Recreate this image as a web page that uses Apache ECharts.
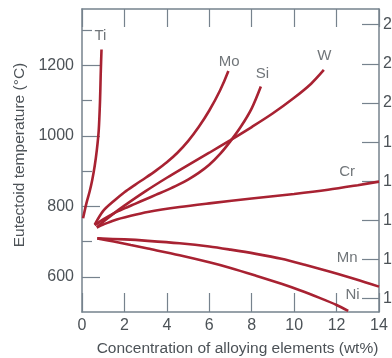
<!DOCTYPE html>
<html><head><meta charset="utf-8">
<script src="https://cdn.jsdelivr.net/npm/echarts@6/dist/echarts.min.js"></script>
<style>html,body{margin:0;padding:0;background:#fff}#c{width:392px;height:358px}</style>
</head><body><div id="c"></div>
<script>
// ---- data (wt% , eutectoid temperature °C) ----
const Ti = [[0.05,766],[0.21,809],[0.36,842],[0.48,874],[0.6,915],[0.7,960],[0.79,1017],[0.85,1100],[0.88,1170],[0.9,1210],[0.92,1245]];
const Mo = [[0.6,748],[1.0,787],[1.5,815],[2.0,840],[2.5,861],[3.0,881],[3.5,902],[4.0,925],[4.5,952],[5.0,985],[5.5,1025],[6.0,1072],[6.5,1128],[6.9,1184]];
const Si = [[0.6,746],[1.0,763],[1.5,780],[2.0,794],[2.5,807],[3.0,820],[3.5,833],[4.0,846],[4.5,860],[5.0,876],[5.5,895],[6.0,918],[6.5,948],[7.0,985],[7.5,1027],[8.0,1078],[8.43,1140]];
const W  = [[0.7,740],[1.0,756],[1.5,780],[2.0,802],[3.0,843],[4.0,881],[5.0,917],[6.0,952],[7.0,988],[8.0,1025],[9.0,1064],[10.0,1108],[10.8,1148],[11.4,1187]];
const Cr = [[0.7,740],[1.0,748],[1.5,760],[2.3,773],[3.1,784],[4.6,798],[6.1,809],[8.0,822],[10.0,835],[11.6,847],[13.0,860],[14.0,870]];
const Mn = [[0.72,709],[2.0,706],[3.1,702],[4.6,695],[6.0,686],[7.0,677],[8.2,665],[9.4,651],[10.5,634],[11.7,614],[12.9,593],[14.0,572]];
const Ni = [[0.72,709],[1.5,700],[2.3,690],[3.1,680],[4.6,661],[6.0,641],[7.0,625],[8.2,603],[9.4,580],[10.3,561],[11.2,540],[12.0,520],[12.55,503]];
const curveNames = ['Ti','Mo','Si','W','Cr','Mn','Ni'];
const curves = [Ti, Mo, Si, W, Cr, Mn, Ni];
// curve labels: [wt%, °C, text]
const curveLabels = [[0.87,1283,'Ti'],[6.94,1211,'Mo'],[8.5,1176,'Si'],[11.42,1228,'W'],[12.5,897,'Cr'],[12.5,653,'Mn'],[12.75,548,'Ni']];
// axes
const xMin = 0, xMax = 14, xStep = 2;
const cMin = 500, cMax = 1360;
const cLabelTicks = [600, 800, 1000, 1200];
const cMinorTicks = [700, 900, 1100, 1300];
const fTicks = [1000, 1200, 1400, 1600, 1800, 2000, 2200, 2400];
const toF = c => c * 9 / 5 + 32;

const FONT = '"Liberation Sans", Arial, sans-serif';
const AX = '#76828d';
const TXT = '#4c5257';
const RED = '#a82232';
const plain = v => String(Math.round(v));

const chart = echarts.init(document.getElementById('c'), null, {renderer: 'canvas'});
const series = curves.map((d, i) => ({
  name: curveNames[i], type: 'line', xAxisIndex: 0, yAxisIndex: 0,
  data: d, smooth: 0.3, symbol: 'none',
  lineStyle: {color: RED, width: 2.6}, z: 3, silent: true
}));
series.push({
  type: 'scatter', xAxisIndex: 0, yAxisIndex: 0, symbolSize: 0,
  data: curveLabels, silent: true,
  label: {show: true, position: 'inside', formatter: p => p.value[2],
    color: TXT, fontFamily: FONT, fontSize: 15}
});

chart.setOption({
  animation: false,
  grid: {left: 82, right: 13, top: 9, bottom: 46, containLabel: false, outerBoundsMode: 'none'},
  xAxis: [{
    type: 'value', position: 'bottom', min: xMin, max: xMax, interval: xStep,
    name: 'Concentration of alloying elements (wt%)', nameLocation: 'middle', nameGap: 29,
    nameTextStyle: {fontFamily: FONT, fontSize: 15.5, color: TXT, padding: [0, 0, 0, 14]},
    axisLine: {show: true, lineStyle: {color: AX, width: 1.5}},
    axisTick: {show: true, inside: true, length: 19, lineStyle: {color: AX, width: 1.2}},
    axisLabel: {fontFamily: FONT, fontSize: 16, color: TXT, margin: 6, formatter: plain},
    splitLine: {show: false}
  }, {
    type: 'value', position: 'top', min: xMin, max: xMax, interval: xStep,
    axisLine: {show: true, lineStyle: {color: AX, width: 1.5}},
    axisTick: {show: true, inside: true, length: 18, lineStyle: {color: AX, width: 1.2}},
    axisLabel: {show: false}, splitLine: {show: false}
  }],
  yAxis: [{
    type: 'value', position: 'left', min: cMin, max: cMax,
    name: 'Eutectoid temperature (°C)', nameLocation: 'middle', nameGap: 54, nameRotate: 90,
    nameTextStyle: {fontFamily: FONT, fontSize: 15.5, color: TXT, padding: [0, 0, 0, 11]},
    axisLine: {show: true, lineStyle: {color: AX, width: 1.5}},
    axisTick: {show: true, inside: true, length: 18, customValues: cLabelTicks, lineStyle: {color: AX, width: 1.2}},
    axisLabel: {show: true, customValues: cLabelTicks, fontFamily: FONT, fontSize: 16, color: TXT, margin: 8, formatter: plain},
    splitLine: {show: false}
  }, {
    type: 'value', position: 'left', min: cMin, max: cMax,
    axisLine: {show: false},
    axisTick: {show: true, inside: true, length: 10, customValues: cMinorTicks, lineStyle: {color: AX, width: 1.2}},
    axisLabel: {show: false}, splitLine: {show: false}
  }, {
    type: 'value', position: 'right', min: toF(cMin), max: toF(cMax),
    axisLine: {show: true, lineStyle: {color: AX, width: 1.5}},
    axisTick: {show: true, inside: true, length: 17, customValues: fTicks, lineStyle: {color: AX, width: 1.2}},
    axisLabel: {show: true, customValues: fTicks, fontFamily: FONT, fontSize: 16, color: TXT, margin: 4, formatter: plain},
    splitLine: {show: false}
  }],
  series: series
});
</script></body></html>
